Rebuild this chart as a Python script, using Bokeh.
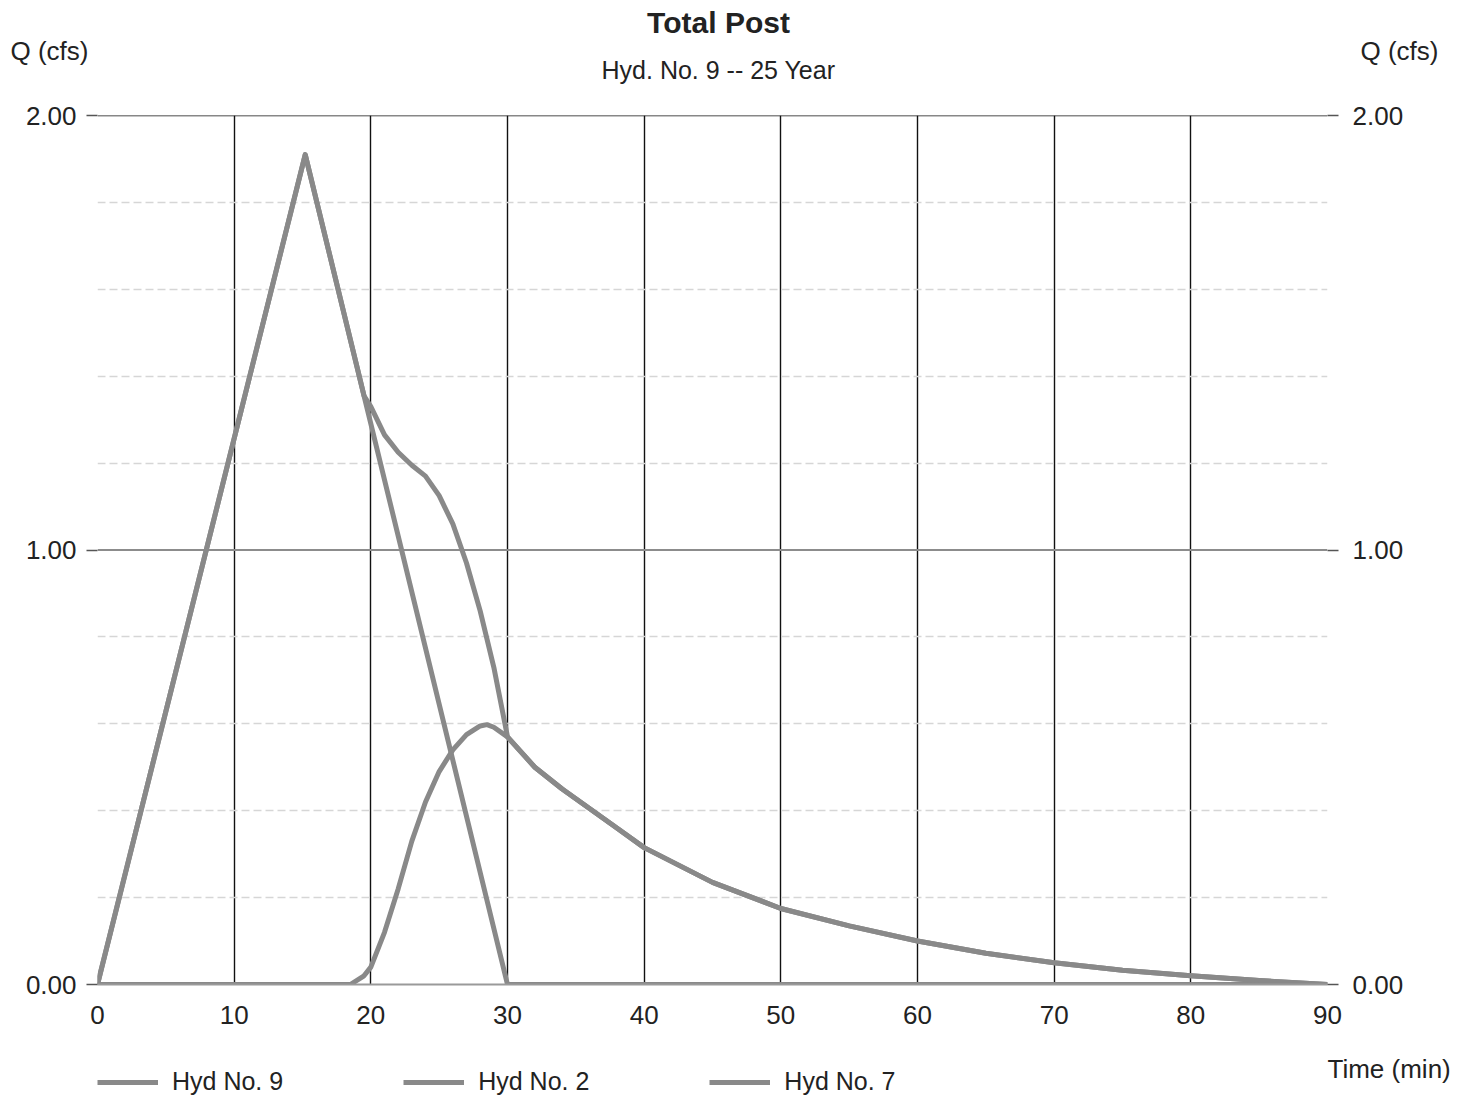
from bokeh.plotting import figure
from bokeh.layouts import column
from bokeh.models import (Range1d, LinearAxis, FixedTicker, Span, Label, Legend,
                          LegendItem, NumeralTickFormatter)
from bokeh.embed import file_html
from bokeh.resources import INLINE

# ---------------- data ----------------
x_ticks = [0, 10, 20, 30, 40, 50, 60, 70, 80, 90]
y_ticks = [0, 1, 2]
y_minor_grid = [0.2, 0.4, 0.6, 0.8, 1.2, 1.4, 1.6, 1.8]

series_names = ["Hyd No. 9", "Hyd No. 2", "Hyd No. 7"]

# Hyd No. 2 (triangular hydrograph)
time_h2 = [0, 15.2, 30, 90]
q_h2 = [0.0, 1.91, 0.0, 0.0]

# Hyd No. 7
time_h7 = [0, 18.5, 19.5, 20, 21, 22, 23, 24, 25, 26, 27, 28, 28.5, 29, 30,
           32, 34, 36, 38, 40, 45, 50, 55, 60, 65, 70, 75, 80, 85, 90]
q_h7 = [0.0, 0.0, 0.02, 0.04, 0.12, 0.22, 0.33, 0.42, 0.49, 0.54, 0.575, 0.595, 0.598, 0.592, 0.57,
        0.50, 0.45, 0.405, 0.36, 0.315, 0.235, 0.175, 0.135, 0.10, 0.072, 0.05, 0.033, 0.02, 0.009, 0.0]

# Hyd No. 9 (total)
time_h9 = [0, 15.2, 19, 19.5, 20, 21, 22, 23, 24, 25, 26, 27, 28, 29, 30,
           32, 34, 36, 38, 40, 45, 50, 55, 60, 65, 70, 75, 80, 85, 90]
q_h9 = [0.0, 1.91, 1.42, 1.355, 1.33, 1.265, 1.225, 1.195, 1.17, 1.125, 1.06, 0.97, 0.86, 0.73, 0.57,
        0.50, 0.45, 0.405, 0.36, 0.315, 0.235, 0.175, 0.135, 0.10, 0.072, 0.05, 0.033, 0.02, 0.009, 0.0]

FONT = "Liberation Sans"
TXT = "#222222"
LINE = "#898989"
W = 1467
FL, FR = 97, 1327   # frame edges in page pixels (column aligns the frames)


def blank(height, y0, y1):
    f = figure(width=W, height=height, x_range=Range1d(FL, FR), y_range=Range1d(y0, y1),
               output_backend="svg", toolbar_location=None,
               min_border_left=FL, min_border_right=W - FR, min_border_top=0, min_border_bottom=0,
               x_axis_location=None, y_axis_location=None)
    f.outline_line_color = None
    f.grid.visible = False
    f.background_fill_color = "white"
    f.border_fill_color = "white"
    return f


def side_label(f, text, side, standoff, size="26px"):
    a = LinearAxis(ticker=FixedTicker(ticks=[]), axis_label=text,
                   axis_label_orientation="horizontal", axis_label_standoff=standoff,
                   axis_label_text_font=FONT, axis_label_text_font_size=size,
                   axis_label_text_font_style="normal", axis_label_text_color=TXT,
                   axis_line_color=None, major_tick_out=0, major_tick_in=0,
                   minor_tick_out=0, minor_tick_in=0, major_label_standoff=0)
    f.add_layout(a, side)


def lab(f, text, cx, cy, size, align="left", style="normal"):
    f.add_layout(Label(x=cx, y=cy, text=text, text_font=FONT, text_font_size=size,
                       text_color=TXT, text_align=align, text_baseline="middle",
                       text_font_style=style))


# ---------------- top strip: titles ----------------
top = blank(100, 100, 0)   # y in page pixels, top-down
lab(top, "Total Post", 718, 22, "30px", "center", "bold")
lab(top, "Hyd. No. 9 -- 25 Year", 718, 69, "25px", "center")
side_label(top, "Q (cfs)", "left", 9)
side_label(top, "Q (cfs)", "right", 33)

# ---------------- main chart ----------------
p = figure(width=W, height=934, x_range=Range1d(0, 90), y_range=Range1d(0, 2),
           output_backend="svg", toolbar_location=None,
           min_border_left=FL, min_border_right=W - FR, min_border_top=15, min_border_bottom=50)
p.outline_line_color = None
p.background_fill_color = "white"
p.border_fill_color = "white"

p.xgrid.ticker = FixedTicker(ticks=x_ticks)
p.xgrid.grid_line_color = "#111111"
p.xgrid.grid_line_width = 1.4
p.ygrid.ticker = FixedTicker(ticks=y_minor_grid)
p.ygrid.grid_line_color = "#d6d6d6"
p.ygrid.grid_line_width = 1.5
p.ygrid.grid_line_dash = "8 4"

p.add_layout(Span(location=1.0, dimension="width", line_color="#8c8c8c", line_width=1.8, level="underlay"))
p.add_layout(Span(location=2.0, dimension="width", line_color="#111111", line_width=1.5, level="underlay"))

ax = p.xaxis[0]
ax.ticker = FixedTicker(ticks=x_ticks)
ax.axis_line_color = "#9a9a9a"
ax.axis_line_width = 2
ax.major_tick_out = 0
ax.major_tick_in = 0
ax.minor_tick_out = 0
ax.minor_tick_in = 0
ax.major_label_standoff = 21
ax.major_label_text_font = FONT
ax.major_label_text_font_size = "26px"
ax.major_label_text_color = TXT

ly = p.yaxis[0]
ry = LinearAxis()
p.add_layout(ry, "right")
for a in (ly, ry):
    a.ticker = FixedTicker(ticks=y_ticks)
    a.formatter = NumeralTickFormatter(format="0.00")
    a.axis_line_color = None
    a.major_tick_out = 11
    a.major_tick_in = 0
    a.major_tick_line_color = "#555555"
    a.major_tick_line_width = 1.3
    a.minor_tick_out = 0
    a.minor_tick_in = 0
    a.major_label_text_font = FONT
    a.major_label_text_font_size = "26px"
    a.major_label_text_color = TXT
ly.major_label_standoff = 10
ry.major_label_standoff = 14

p.line(time_h9, q_h9, line_color=LINE, line_width=5, line_join="round")
p.line(time_h2, q_h2, line_color=LINE, line_width=5, line_join="round")
p.line(time_h7, q_h7, line_color=LINE, line_width=5, line_join="round")

# ---------------- bottom strip: legend + x-axis title ----------------
bot = blank(68, 1102, 1034)   # y in page pixels, top-down
# series drawn through this strip's scales (they fall outside its frame); used as legend glyphs
b9 = bot.line(time_h9, q_h9, line_color=LINE, line_width=5)
b2 = bot.line(time_h2, q_h2, line_color=LINE, line_width=5)
b7 = bot.line(time_h7, q_h7, line_color=LINE, line_width=5)
legend = Legend(items=[LegendItem(label=series_names[0], renderers=[b9]),
                       LegendItem(label=series_names[1], renderers=[b2]),
                       LegendItem(label=series_names[2], renderers=[b7])],
                orientation="horizontal", location=(0, 6),
                glyph_width=61, glyph_height=26, label_height=26, label_standoff=14,
                spacing=120, padding=0, margin=0, border_line_color=None,
                background_fill_alpha=0, label_text_font=FONT, label_text_font_size="25px",
                label_text_color=TXT)
bot.add_layout(legend, "center")
side_label(bot, "Time (min)", "right", 0)

layout = column(top, p, bot, spacing=0)
open("out.html", "w").write(file_html(layout, INLINE))
